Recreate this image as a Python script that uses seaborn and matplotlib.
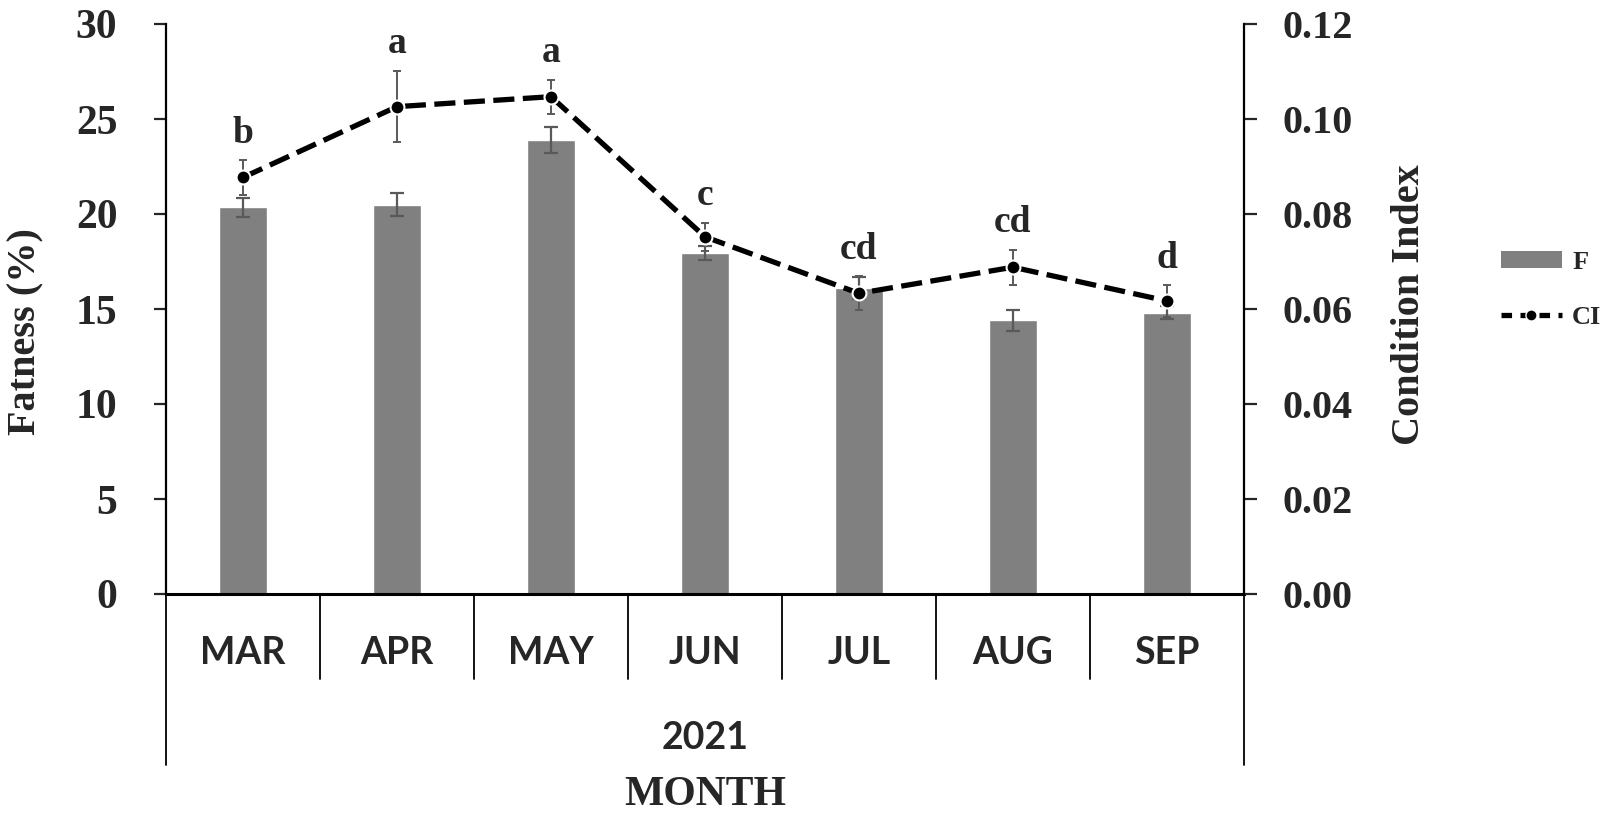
import numpy as np
import pandas as pd
import seaborn as sns
import matplotlib.pyplot as plt
from matplotlib.patches import Patch
from matplotlib.lines import Line2D
from matplotlib.transforms import blended_transform_factory

sns.set_style("white")
plt.rcParams['font.family'] = ['Liberation Serif', 'DejaVu Serif']

# data
months = ["MAR", "APR", "MAY", "JUN", "JUL", "AUG", "SEP"]
fatness = [20.35, 20.5, 23.9, 17.95, 16.1, 14.4, 14.8]
fatness_err = [0.5, 0.6, 0.7, 0.35, 0.6, 0.55, 0.35]
ci = [0.0877, 0.1026, 0.1047, 0.0752, 0.0633, 0.0688, 0.0617]
ci_err = [0.0036, 0.0075, 0.0036, 0.0030, 0.0036, 0.0037, 0.0033]
letters = ["b", "a", "a", "c", "cd", "cd", "d"]
year = "2021"

df = pd.DataFrame({"month": months, "F": fatness, "F_err": fatness_err,
                   "CI": ci, "CI_err": ci_err})

fig = plt.figure(figsize=(16.06, 8.19), dpi=100)
ax = fig.add_axes([166/1606, 1-594/819, (1244-166)/1606, 570/819])

bar_color = "#808080"
err_color = "#595959"

sns.barplot(data=df, x="month", y="F", color=bar_color, width=0.31,
            errorbar=None, saturation=1, ax=ax, zorder=2)
pos = np.arange(len(months))
ax.errorbar(pos, df["F"], yerr=df["F_err"], fmt="none", ecolor=err_color,
            elinewidth=1.6, capsize=5, capthick=1.6, zorder=3)

ax2 = ax.twinx()
ax2.errorbar(pos, df["CI"], yerr=df["CI_err"], fmt="none", ecolor=err_color,
             elinewidth=1.4, capsize=3, capthick=1.4, zorder=3)
sns.pointplot(data=df, x="month", y="CI", color="black", errorbar=None,
              ax=ax2, markers="o", linestyles="--", zorder=4)
line = ax2.lines[-1]
line.set_linewidth(3.8)
line.set_dashes((4, 1.6))
line.set_markersize(10)
line.set_markeredgecolor("white")
line.set_markeredgewidth(1.5)

ax.set_ylim(0, 30)
ax2.set_ylim(0, 0.12)
ax.set_xlim(-0.5, len(months) - 0.5)
ax2.set_xlim(-0.5, len(months) - 0.5)
ax.set_yticks(np.arange(0, 31, 5))
ax2.set_yticks(np.arange(0, 0.121, 0.02))
ax2.set_yticklabels([f"{v:.2f}" for v in np.arange(0, 0.121, 0.02)])

for a in (ax, ax2):
    a.grid(False)
    for s in a.spines.values():
        s.set_visible(False)
ax.spines["left"].set_visible(True)
ax.spines["bottom"].set_visible(True)
ax2.spines["right"].set_visible(True)
for s in (ax.spines["left"], ax.spines["bottom"], ax2.spines["right"]):
    s.set_color("black")
    s.set_linewidth(1.6)
ax.spines["bottom"].set_linewidth(2.2)

ax.tick_params(axis="y", direction="out", length=9, width=1.6, pad=26,
               labelsize=30, left=True)
ax2.tick_params(axis="y", direction="out", length=9, width=1.6, pad=19,
                labelsize=29, right=True)
for t in ax.get_yticklabels() + ax2.get_yticklabels():
    t.set_fontweight("bold")

ax.set_xticks([])
ax2.set_xticks([])
ax.set_xlabel("")
ax2.set_xlabel("")
ax.set_ylabel("")
ax2.set_ylabel("")

# significance letters above CI error bars
for i, (v, e, l) in enumerate(zip(ci, ci_err, letters)):
    ax2.annotate(l, (i, v + e), xytext=(0, 7), textcoords="offset points",
                 ha="center", va="bottom", fontsize=27, fontweight="bold")

# category axis boxes below the plot
trans = blended_transform_factory(ax.transData, ax.transAxes)
for b in np.arange(len(months) + 1) - 0.5:
    bottom = -0.30 if b in (-0.5, len(months) - 0.5) else -0.149
    ax.plot([b, b], [0, bottom], color="black", lw=1.3, transform=trans,
            clip_on=False)
for i, m in enumerate(months):
    ax.text(i, -0.1035, m, transform=trans, ha="center", va="center",
            fontsize=27, fontweight="bold", family=["Lato", "DejaVu Sans"])
ax.text(0.5, -0.252, year, transform=ax.transAxes, ha="center", va="center",
        fontsize=27, fontweight="bold", family=["Lato", "DejaVu Sans"])
ax.text(0.5, -0.352, "MONTH", transform=ax.transAxes, ha="center",
        va="center", fontsize=30, fontweight="bold")

fig.text(26/1606, 1-332/819, "Fatness (%)", rotation=90, ha="center",
         va="center", fontsize=29, fontweight="bold")
fig.text(1410/1606, 1-305/819, "Condition Index", rotation=90, ha="center",
         va="center", fontsize=29, fontweight="bold")

handles = [Patch(facecolor=bar_color, edgecolor="none"),
           Line2D([], [], color="black", lw=3.8, dashes=(2, 1.6), marker="o",
                  markersize=8, markeredgecolor="white")]
fig.legend(handles, ["F", "CI"], loc="center left",
           bbox_to_anchor=(1501/1606, 1-290/819), frameon=False,
           borderpad=0, borderaxespad=0,
           prop={"size": 19, "weight": "bold"}, handlelength=2.3,
           handleheight=0.6, labelspacing=1.2, handletextpad=0.4)

fig.savefig("out.png", dpi=100)
